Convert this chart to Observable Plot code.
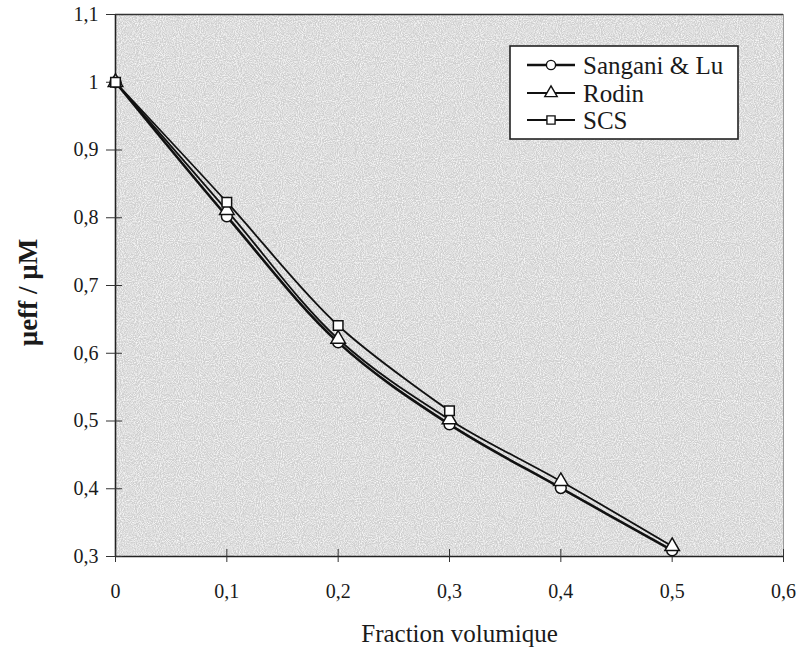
<!DOCTYPE html>
<html>
<head>
<meta charset="utf-8">
<script src="https://cdn.jsdelivr.net/npm/d3@7"></script>
<script src="https://cdn.jsdelivr.net/npm/@observablehq/plot@0.6"></script>
<style>
  html, body { margin: 0; padding: 0; background: #fff; font-family: "Liberation Serif", serif; }
  #wrap { position: relative; width: 798px; height: 649px; }
  #legend { position: absolute; left: 509px; top: 45px; }
</style>
</head>
<body>
<div id="wrap"></div>
<script>
// ---- data ----
const fractions = [0, 0.1, 0.2, 0.3, 0.4, 0.5];
const sanganiLu = [1, 0.802, 0.616, 0.495, 0.401, 0.309];
const rodin     = [1, 0.811, 0.621, 0.502, 0.411, 0.315];
const scs       = [1, 0.823, 0.641, 0.515];
const seriesNames = ["Sangani & Lu", "Rodin", "SCS"];
const xTicks = [0, 0.1, 0.2, 0.3, 0.4, 0.5, 0.6];
const yTicks = [0.3, 0.4, 0.5, 0.6, 0.7, 0.8, 0.9, 1, 1.1];

const symbols = {"Sangani & Lu": "circle", "Rodin": "triangle", "SCS": "square"};
const widths = {"Sangani & Lu": 2.6, "Rodin": 1.8, "SCS": 1.8};

const rows = [];
[[seriesNames[0], sanganiLu], [seriesNames[1], rodin], [seriesNames[2], scs]].forEach(([name, vals]) => {
  vals.forEach((v, i) => rows.push({series: name, x: fractions[i], y: v}));
});

const fmt = d => String(+d.toFixed(1)).replace(".", ",");
const font = '"Liberation Serif", serif';

const chart = Plot.plot({
  width: 798,
  height: 649,
  marginLeft: 115,
  marginRight: 15,
  marginTop: 14,
  marginBottom: 93,
  style: {fontFamily: font, fontSize: "20px", color: "#1a1a1a", background: "#fff"},
  x: {domain: [0, 0.6]},
  y: {domain: [0.3, 1.1]},
  marks: [
    Plot.frame({fill: "#cfcfcf", stroke: null}),
    Plot.ruleY([1.1], {stroke: "#333", strokeWidth: 1.5}),
    Plot.ruleX([0.6], {stroke: "#999", strokeWidth: 1}),
    Plot.ruleX([0], {stroke: "#222", strokeWidth: 1.6}),
    Plot.ruleY([0.3], {stroke: "#222", strokeWidth: 1.6}),
    Plot.axisX({ticks: xTicks, tickSize: 13, dy: -7, tickFormat: () => "", label: null, stroke: "#333"}),
    Plot.axisY({ticks: yTicks, tickSize: 16, dx: 7, tickFormat: () => "", label: null, stroke: "#333"}),
    Plot.axisX({ticks: xTicks, tickSize: 0, tickPadding: 27, tickFormat: fmt, label: null, fontSize: 20, fill: "#1a1a1a", fontFamily: font}),
    Plot.axisY({ticks: yTicks, tickSize: 0, tickPadding: 17, tickFormat: fmt, label: null, fontSize: 20, fill: "#1a1a1a", fontFamily: font}),
    ...seriesNames.map(name =>
      Plot.line(rows.filter(r => r.series === name), {
        x: "x", y: "y", stroke: "#111", strokeWidth: widths[name], curve: "catmull-rom"
      })
    ),
    ...seriesNames.map(name =>
      Plot.dot(rows.filter(r => r.series === name), {
        x: "x", y: "y", symbol: symbols[name], r: 5.4, fill: "#fff", stroke: "#111", strokeWidth: 1.5
      })
    ),
    Plot.text(["Fraction volumique"], {frameAnchor: "bottom", dx: 10, dy: 85, fontSize: 25, fill: "#1a1a1a", fontFamily: font}),
    Plot.text(["\u00b5eff / \u00b5M"], {frameAnchor: "left", textAnchor: "middle", lineAnchor: "middle", dx: -87, dy: 7, rotate: -90, fontSize: 27, fontWeight: "bold", fill: "#1a1a1a", fontFamily: font})
  ]
});

const svgNS = "http://www.w3.org/2000/svg";
const defs = document.createElementNS(svgNS, "defs");
defs.innerHTML = `
<filter id="speckle" x="0" y="0" width="100%" height="100%">
  <feTurbulence type="fractalNoise" baseFrequency="0.95" numOctaves="2" seed="3" result="noise"/>
  <feColorMatrix in="noise" type="matrix" values="0 0 0 0 1  0 0 0 0 1  0 0 0 0 1  1.8 0 0 0 -0.62" result="white"/>
  <feComposite in="white" in2="SourceGraphic" operator="in" result="wm"/>
  <feMerge><feMergeNode in="SourceGraphic"/><feMergeNode in="wm"/></feMerge>
</filter>`;
chart.insertBefore(defs, chart.firstChild);
const bg = chart.querySelector("[aria-label=frame]");
if (bg) { bg.setAttribute("filter", "url(#speckle)"); }

document.getElementById("wrap").appendChild(chart);

const lw = 230, lh = 95;
const legend = d3.select("#wrap").append("svg")
  .attr("id", "legend").attr("width", lw).attr("height", lh)
  .style("font-family", font);
legend.append("rect").attr("x", 1).attr("y", 1).attr("width", lw - 2).attr("height", lh - 2)
  .attr("fill", "#fff").attr("stroke", "#222").attr("stroke-width", 1.6);
const rowY = [20, 48, 75];
seriesNames.forEach((name, i) => {
  const g = legend.append("g").attr("transform", `translate(0,${rowY[i]})`);
  g.append("line").attr("x1", 18).attr("x2", 66).attr("y1", 0).attr("y2", 0)
    .attr("stroke", "#111").attr("stroke-width", widths[name]);
  const sym = d3.symbol().type({circle: d3.symbolCircle, triangle: d3.symbolTriangle, square: d3.symbolSquare}[symbols[name]]).size(Math.PI * 4.6 * 4.6);
  g.append("path").attr("d", sym()).attr("transform", "translate(42,0)")
    .attr("fill", "#fff").attr("stroke", "#111").attr("stroke-width", 1.4);
  g.append("text").attr("x", 74).attr("y", 0).attr("dy", "0.34em")
    .attr("font-size", 25).attr("fill", "#1a1a1a").text(name);
});
</script>
</body>
</html>
